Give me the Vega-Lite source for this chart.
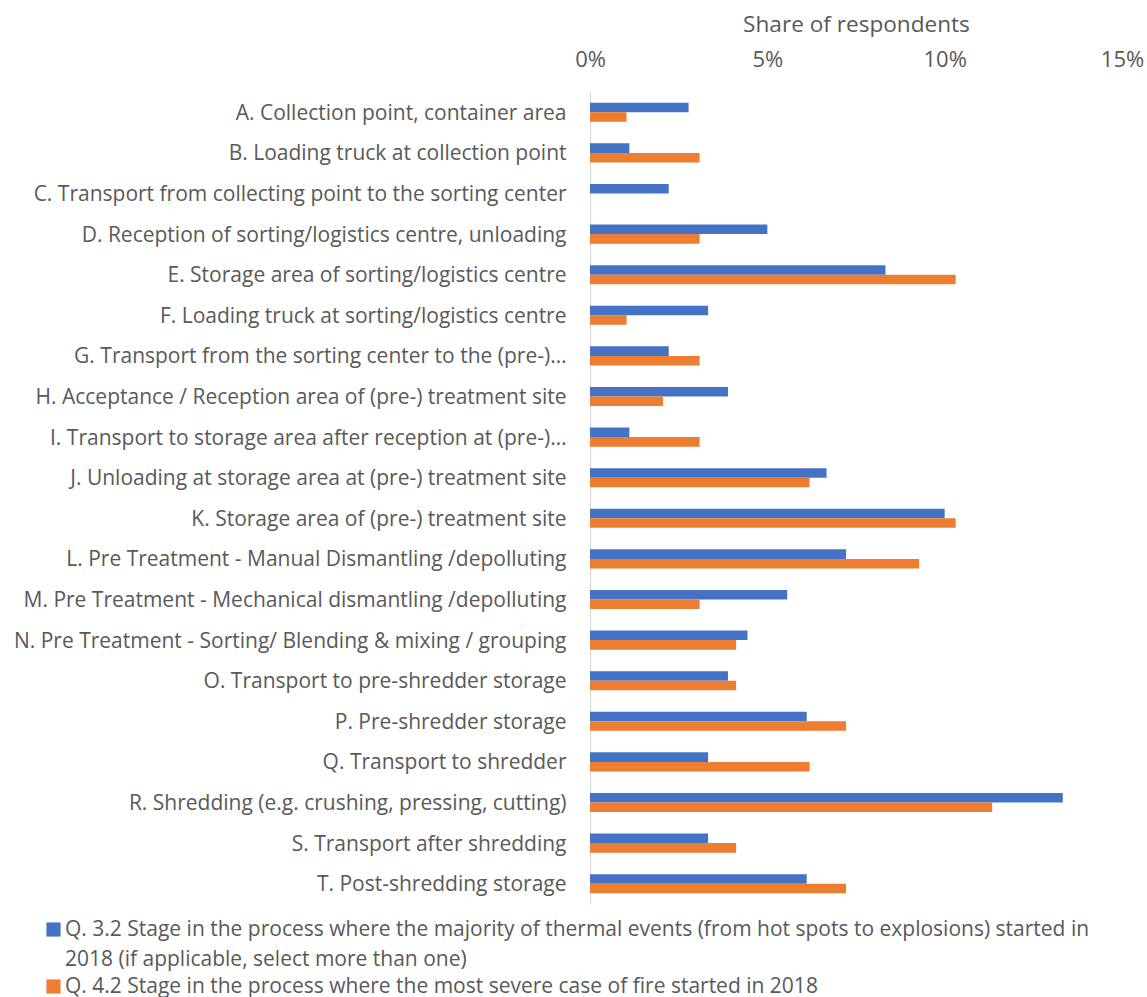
{
  "$schema": "https://vega.github.io/schema/vega-lite/v6.json",
  "autosize": {"type": "none"},
  "padding": {"left": 590, "top": 92, "right": 25, "bottom": 93},
  "width": 532,
  "height": 812,
  "background": "white",
  "config": {
    "view": {"stroke": null},
    "font": "Open Sans",
    "text": {"font": "Open Sans"}
  },
  "data": {
    "values": [
      {"stage": "A. Collection point, container area", "series": "Q. 3.2", "share": 0.0278},
      {"stage": "A. Collection point, container area", "series": "Q. 4.2", "share": 0.0103},
      {"stage": "B. Loading truck at collection point", "series": "Q. 3.2", "share": 0.0111},
      {"stage": "B. Loading truck at collection point", "series": "Q. 4.2", "share": 0.0309},
      {"stage": "C. Transport from collecting point to the sorting center", "series": "Q. 3.2", "share": 0.0222},
      {"stage": "C. Transport from collecting point to the sorting center", "series": "Q. 4.2", "share": 0},
      {"stage": "D. Reception of sorting/logistics centre, unloading", "series": "Q. 3.2", "share": 0.05},
      {"stage": "D. Reception of sorting/logistics centre, unloading", "series": "Q. 4.2", "share": 0.0309},
      {"stage": "E. Storage area of sorting/logistics centre", "series": "Q. 3.2", "share": 0.0833},
      {"stage": "E. Storage area of sorting/logistics centre", "series": "Q. 4.2", "share": 0.1031},
      {"stage": "F. Loading truck at sorting/logistics centre", "series": "Q. 3.2", "share": 0.0333},
      {"stage": "F. Loading truck at sorting/logistics centre", "series": "Q. 4.2", "share": 0.0103},
      {"stage": "G. Transport from the sorting center to the (pre-)…", "series": "Q. 3.2", "share": 0.0222},
      {"stage": "G. Transport from the sorting center to the (pre-)…", "series": "Q. 4.2", "share": 0.0309},
      {"stage": "H. Acceptance / Reception area of (pre-) treatment site", "series": "Q. 3.2", "share": 0.0389},
      {"stage": "H. Acceptance / Reception area of (pre-) treatment site", "series": "Q. 4.2", "share": 0.0206},
      {"stage": "I. Transport to storage area after reception at (pre-)…", "series": "Q. 3.2", "share": 0.0111},
      {"stage": "I. Transport to storage area after reception at (pre-)…", "series": "Q. 4.2", "share": 0.0309},
      {"stage": "J. Unloading at storage area at (pre-) treatment site", "series": "Q. 3.2", "share": 0.0667},
      {"stage": "J. Unloading at storage area at (pre-) treatment site", "series": "Q. 4.2", "share": 0.0619},
      {"stage": "K. Storage area of (pre-) treatment site", "series": "Q. 3.2", "share": 0.1},
      {"stage": "K. Storage area of (pre-) treatment site", "series": "Q. 4.2", "share": 0.1031},
      {"stage": "L. Pre Treatment - Manual Dismantling /depolluting", "series": "Q. 3.2", "share": 0.0722},
      {"stage": "L. Pre Treatment - Manual Dismantling /depolluting", "series": "Q. 4.2", "share": 0.0928},
      {"stage": "M. Pre Treatment - Mechanical dismantling /depolluting", "series": "Q. 3.2", "share": 0.0556},
      {"stage": "M. Pre Treatment - Mechanical dismantling /depolluting", "series": "Q. 4.2", "share": 0.0309},
      {"stage": "N. Pre Treatment - Sorting/ Blending & mixing / grouping", "series": "Q. 3.2", "share": 0.0444},
      {"stage": "N. Pre Treatment - Sorting/ Blending & mixing / grouping", "series": "Q. 4.2", "share": 0.0412},
      {"stage": "O. Transport to pre-shredder storage", "series": "Q. 3.2", "share": 0.0389},
      {"stage": "O. Transport to pre-shredder storage", "series": "Q. 4.2", "share": 0.0412},
      {"stage": "P. Pre-shredder storage", "series": "Q. 3.2", "share": 0.0611},
      {"stage": "P. Pre-shredder storage", "series": "Q. 4.2", "share": 0.0722},
      {"stage": "Q. Transport to shredder", "series": "Q. 3.2", "share": 0.0333},
      {"stage": "Q. Transport to shredder", "series": "Q. 4.2", "share": 0.0619},
      {"stage": "R. Shredding (e.g. crushing, pressing, cutting)", "series": "Q. 3.2", "share": 0.1333},
      {"stage": "R. Shredding (e.g. crushing, pressing, cutting)", "series": "Q. 4.2", "share": 0.1134},
      {"stage": "S. Transport after shredding", "series": "Q. 3.2", "share": 0.0333},
      {"stage": "S. Transport after shredding", "series": "Q. 4.2", "share": 0.0412},
      {"stage": "T. Post-shredding storage", "series": "Q. 3.2", "share": 0.0611},
      {"stage": "T. Post-shredding storage", "series": "Q. 4.2", "share": 0.0722}
    ]
  },
  "mark": {"type": "bar"},
  "encoding": {
    "y": {
      "field": "stage",
      "type": "nominal",
      "sort": null,
      "scale": {"paddingInner": 0.53, "paddingOuter": 0.265},
      "axis": {
        "title": null,
        "ticks": false,
        "domain": true,
        "domainColor": "#d9d9d9",
        "domainWidth": 1.2,
        "labelPadding": 24,
        "labelOffset": 1.5,
        "labelFontSize": 21,
        "labelColor": "#595959",
        "labelLimit": 700,
        "labelFont": "Open Sans"
      }
    },
    "x": {
      "field": "share",
      "type": "quantitative",
      "scale": {"domain": [0, 0.15], "nice": false},
      "axis": {
        "orient": "top",
        "title": "Share of respondents",
        "titleFontSize": 22.6,
        "titleFontWeight": "normal",
        "titleColor": "#595959",
        "titlePadding": 12,
        "titleFont": "Open Sans",
        "format": ".0%",
        "values": [0, 0.05, 0.1, 0.15],
        "grid": false,
        "ticks": false,
        "domain": false,
        "labelPadding": 21,
        "labelFontSize": 22,
        "labelColor": "#595959",
        "labelFont": "Open Sans",
        "labelFlush": false
      }
    },
    "yOffset": {"field": "series", "type": "nominal", "scale": {"paddingInner": 0, "paddingOuter": 0}},
    "color": {
      "field": "series",
      "type": "nominal",
      "scale": {"domain": ["Q. 3.2", "Q. 4.2"], "range": ["#4472C4", "#ED7D31"]},
      "legend": {
        "orient": "none",
        "legendX": -547,
        "legendY": 827,
        "title": null,
        "padding": 0,
        "symbolType": "square",
        "symbolSize": 200,
        "symbolStrokeWidth": 0,
        "labelFontSize": 21,
        "labelFont": "Open Sans",
        "labelColor": "#595959",
        "labelLimit": 1200,
        "labelOffset": 1,
        "rowPadding": 5,
        "labelExpr": "datum.label == 'Q. 3.2' ? ['Q. 3.2 Stage in the process where the majority of thermal events (from hot spots to explosions) started in', '2018 (if applicable, select more than one)'] : 'Q. 4.2 Stage in the process where the most severe case of fire started in 2018'",
        "encode": {"labels": {"update": {"lineHeight": {"value": 30}}}}
      }
    }
  }
}
